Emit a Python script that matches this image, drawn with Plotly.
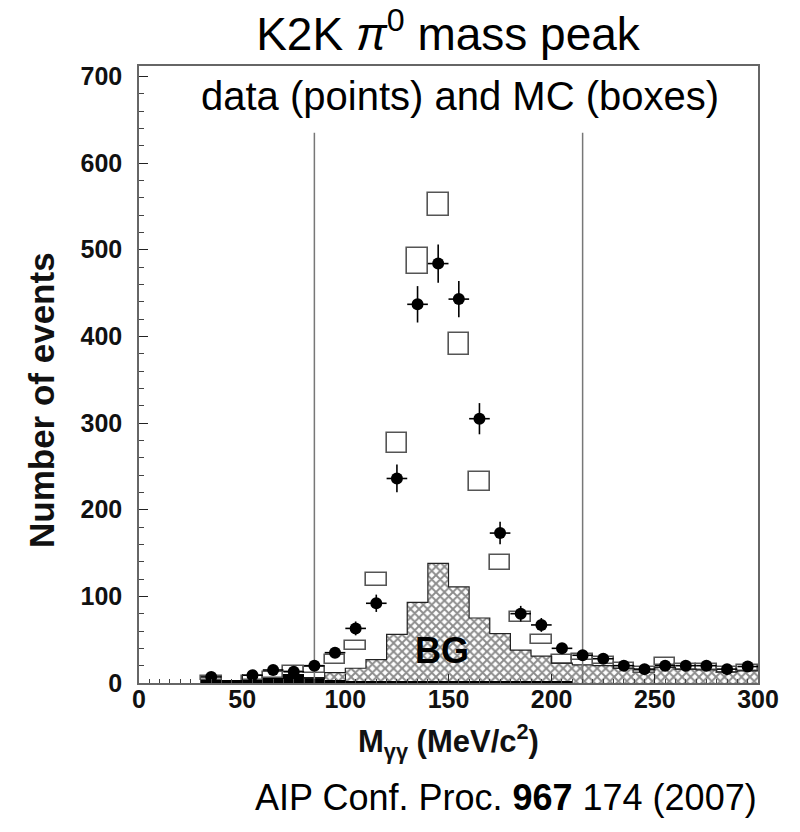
import plotly.graph_objects as go

# ---- data ----
data_x = [35, 55, 65, 75, 85, 95, 105, 115, 125, 135, 145, 155, 165, 175, 185,
          195, 205, 215, 225, 235, 245, 255, 265, 275, 285, 295]
data_y = [7, 9, 15, 13, 20, 35, 63, 92, 236, 437, 484, 443, 305, 173, 80,
          67, 40, 32, 28, 20, 16, 20, 20, 20, 16, 19]
data_err = [3, 3, 4, 4, 5, 6, 8, 10, 16, 21, 22, 21, 18, 13, 9,
            8, 6, 6, 5, 5, 4, 5, 5, 5, 4, 4]
bin_half_width = 5

mc_x = [35, 55, 65, 75, 85, 95, 105, 115, 125, 135, 145, 155, 165, 175, 185,
        195, 205, 215, 225, 235, 245, 255, 265, 275, 285, 295]
mc_y = [6, 6, 9, 16, 15, 27, 43, 119, 277, 487, 552, 391, 233, 139, 76,
        50, 27, 30, 26, 20, 15, 25, 19, 18, 15, 17]
mc_half = [2.5, 2.5, 3.5, 3.3, 4, 5, 5, 7.5, 12, 15, 13, 13, 11, 8.5, 6,
           5.5, 5, 4, 4, 3.5, 3.5, 4, 3.5, 3.5, 3.5, 3.5]

bg_left = [80, 90, 100, 110, 120, 130, 140, 150, 160, 170, 180, 190, 200,
           210, 220, 230, 240, 250, 260, 270, 280, 290]
bg_y = [6, 12, 17, 27, 56, 93, 138, 111, 75, 57, 38, 31, 23,
        21, 20, 17, 15, 18, 16, 15, 13, 14]

blk_left = [30, 40, 50, 60, 70, 80, 90, 100, 110, 120, 130, 140, 150,
            160, 170, 180, 190, 200]
blk_y = [4, 4, 5, 6, 10, 7, 3, 2, 2, 2, 2, 2, 2, 1.5, 1.5, 1.5, 1.5, 1.5]

bin_width = 10
cuts = [85, 215]
cut_top = 635

x_ticks = [0, 50, 100, 150, 200, 250, 300]
y_ticks = [0, 100, 200, 300, 400, 500, 600, 700]
x_range = [0, 300]
y_range = [0, 712]

FONT = "Liberation Sans, Arial, sans-serif"

fig = go.Figure()

# hatched BG histogram
fig.add_trace(go.Bar(
    x=[l + bin_width / 2 for l in bg_left], y=bg_y, width=bin_width,
    marker=dict(color="white", line=dict(width=0),
                pattern=dict(shape="x", fgcolor="#1a1a1a", bgcolor="white",
                             size=6, solidity=0.55)),
    showlegend=False, hoverinfo="skip"))

# black BG component
fig.add_trace(go.Bar(
    x=[l + bin_width / 2 for l in blk_left], y=blk_y, width=bin_width,
    marker=dict(color="black", line=dict(width=0)),
    showlegend=False, hoverinfo="skip"))

# MC boxes
fig.add_trace(go.Bar(
    x=mc_x, y=[2 * h for h in mc_half], base=[c - h for c, h in zip(mc_y, mc_half)],
    width=bin_width,
    marker=dict(color="white", line=dict(color="#555555", width=1.6)),
    showlegend=False, hoverinfo="skip"))

# outline of hatched histogram
step_x = [bg_left[0]] + bg_left + [bg_left[-1] + bin_width]
step_y = [0] + bg_y + [bg_y[-1]]
fig.add_trace(go.Scatter(x=step_x, y=step_y, mode="lines",
                         line=dict(color="#222222", width=1.2, shape="hv"),
                         showlegend=False, hoverinfo="skip"))

# cut lines
for c in cuts:
    fig.add_trace(go.Scatter(x=[c, c], y=[0, cut_top], mode="lines",
                             line=dict(color="#777777", width=1.5),
                             showlegend=False, hoverinfo="skip"))

# data points
fig.add_trace(go.Scatter(
    x=data_x, y=data_y, mode="markers",
    marker=dict(color="black", size=12),
    error_x=dict(type="constant", value=bin_half_width, color="black", thickness=1.6, width=0),
    error_y=dict(type="data", array=data_err, color="black", thickness=1.6, width=0),
    showlegend=False, hoverinfo="skip"))

axis_common = dict(
    showline=True, linecolor="#666666", linewidth=1.5, mirror=True,
    ticks="inside", tickcolor="#222222", tickwidth=1.3, ticklen=9,
    showgrid=False, zeroline=False,
    tickfont=dict(family=FONT, size=25, color="#111111", weight="bold"),
)

fig.update_layout(
    width=800, height=832,
    margin=dict(l=139, r=42, t=66, b=149),
    paper_bgcolor="white", plot_bgcolor="white",
    barmode="overlay", bargap=0,
    xaxis=dict(range=x_range, tickvals=x_ticks,
               minor=dict(dtick=5, ticks="inside", ticklen=4, tickcolor="#444444"),
               ticklabelstandoff=-7, **axis_common),
    yaxis=dict(range=y_range, tickvals=y_ticks,
               minor=dict(dtick=20, ticks="inside", ticklen=5, tickcolor="#444444"),
               ticklabelstandoff=10, **axis_common),
    title=dict(text="K2K <i>π</i><sup>0</sup> mass peak", x=0.56, xanchor="center",
               y=1 - 34 / 832, yanchor="middle",
               font=dict(family=FONT, size=46, color="black")),
    annotations=[
        dict(text="data (points) and MC (boxes)", xref="paper", yref="paper",
             x=(460 - 139) / 619, y=(683 - 96) / 617, xanchor="center", yanchor="middle",
             showarrow=False, font=dict(family=FONT, size=40, color="black")),
        dict(text="BG", xref="x", yref="y", x=147, y=38, xanchor="center",
             yanchor="middle", showarrow=False,
             font=dict(family=FONT, size=36, color="black", weight="bold")),
        dict(text="Number of events", xref="paper", yref="paper",
             x=(41 - 139) / 619, y=(683 - 400) / 617, textangle=-90,
             xanchor="center", yanchor="middle", showarrow=False,
             font=dict(family=FONT, size=35, color="#111111", weight="bold")),
        dict(text="M<sub>γγ</sub> (MeV/c<sup>2</sup>)", xref="paper", yref="paper",
             x=(448 - 139) / 619, y=(683 - 741) / 617,
             xanchor="center", yanchor="middle", showarrow=False,
             font=dict(family=FONT, size=31, color="#111111", weight="bold")),
        dict(text="AIP Conf. Proc. <b>967</b> 174 (2007)", xref="paper", yref="paper",
             x=(506 - 139) / 619, y=(683 - 797) / 617,
             xanchor="center", yanchor="middle", showarrow=False,
             font=dict(family=FONT, size=36, color="black")),
    ],
)

fig.write_html("out.html")
